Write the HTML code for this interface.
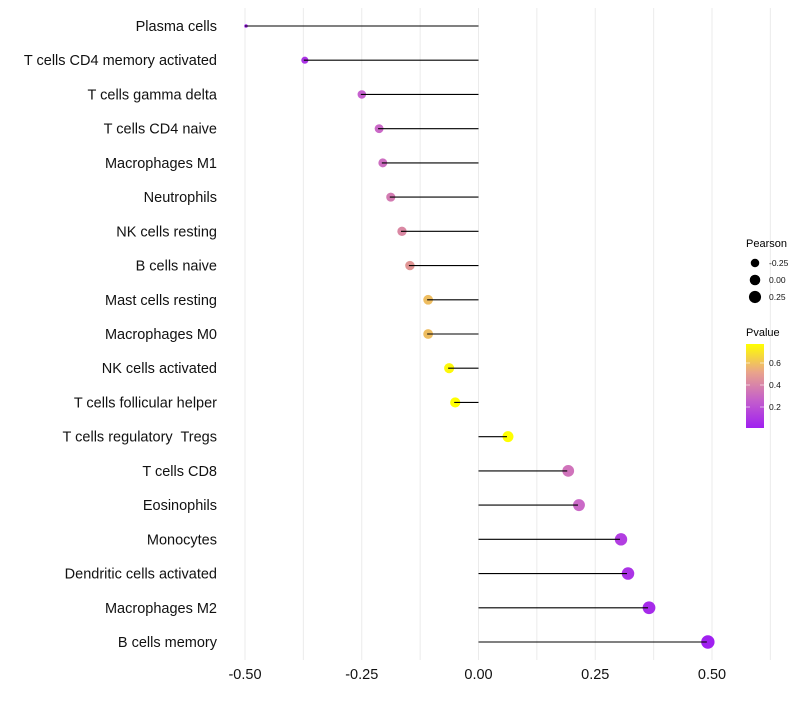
<!DOCTYPE html>
<html><head><meta charset="utf-8"><style>
body{margin:0;background:#fff;font-family:"Liberation Sans",sans-serif}
svg text{font-family:"Liberation Sans",sans-serif;white-space:pre}
</style></head><body>
<svg id="chart" width="800" height="700" xmlns="http://www.w3.org/2000/svg">
<defs><linearGradient id="pg" x1="0" y1="1" x2="0" y2="0">
<stop offset="0" stop-color="#A020F0"/><stop offset="0.33" stop-color="#C45FCB"/><stop offset="0.66" stop-color="#E9A38C"/><stop offset="1" stop-color="#FFFF00"/></linearGradient></defs>
<g id="grid"></g>
<g id="marks"></g>
<g id="ylabels"></g>
<g id="xlabels"></g>
<g>
<text x="746" y="247" font-size="11">Pearson</text>
<g id="sizeleg"></g>
</g>
<g>
<text x="746" y="336" font-size="11">Pvalue</text>
<rect x="746" y="344" width="18" height="84" fill="url(#pg)"/>
<g id="colleg"></g>
</g>
</svg>
<script>
const categories=["Plasma cells","T cells CD4 memory activated","T cells gamma delta","T cells CD4 naive","Macrophages M1","Neutrophils","NK cells resting","B cells naive","Mast cells resting","Macrophages M0","NK cells activated","T cells follicular helper","T cells regulatory  Tregs","T cells CD8","Eosinophils","Monocytes","Dendritic cells activated","Macrophages M2","B cells memory"];
const pearson=[-0.50,-0.374,-0.252,-0.215,-0.207,-0.19,-0.166,-0.149,-0.11,-0.11,-0.065,-0.052,0.061,0.19,0.213,0.303,0.318,0.363,0.489];
const pvalues=[0.02,0.08,0.25,0.28,0.30,0.35,0.40,0.45,0.58,0.58,0.75,0.77,0.77,0.32,0.28,0.12,0.08,0.05,0.01];
const xTicks=[-0.5,-0.25,0,0.25,0.5];
const xTickLabels=["-0.50","-0.25","0.00","0.25","0.50"];
const sizeLegendValues=[-0.25,0,0.25];
const sizeLegendLabels=["-0.25","0.00","0.25"];
const colorLegendValues=[0.2,0.4,0.6];
const colorLegendLabels=["0.2","0.4","0.6"];
const NS="http://www.w3.org/2000/svg";
function xs(v){return 478.5+v*467;}
function ys(i){return 26+i*(616/(categories.length-1));}
function rs(v){return 1.8+4.9*Math.sqrt(Math.max(0,(v+0.5)/0.99));}
function cs(p){const t=Math.max(0,Math.min(1,(p-0.01)/0.76));
const st=[[0,[160,32,240]],[0.33,[200,100,205]],[0.66,[232,165,130]],[1,[255,255,0]]];
for(let k=1;k<st.length;k++){if(t<=st[k][0]){const a=st[k-1],b=st[k],f=(t-a[0])/(b[0]-a[0]);
return "rgb("+a[1].map((c,j)=>Math.round(c+(b[1][j]-c)*f)).join(",")+")";}}return "rgb(255,255,0)";}
function cy(p){return 429-p*110;}
function mk(tag,attrs,parent){const e=document.createElementNS(NS,tag);for(const k in attrs)e.setAttribute(k,attrs[k]);parent.appendChild(e);return e;}
const grid=document.getElementById('grid');
for(let g=-0.5;g<=0.625;g+=0.125){const l=mk('line',{x1:xs(g),x2:xs(g),y1:8,y2:660,stroke:'#ebebeb','stroke-width':1},grid);

}
const marks=document.getElementById('marks'),yl=document.getElementById('ylabels');
categories.forEach((c,i)=>{const y=ys(i);
const p=mk('circle',{cx:xs(pearson[i])+1,cy:y,r:rs(pearson[i]),fill:cs(pvalues[i])},marks);


const l=mk('line',{x1:xs(0),x2:xs(pearson[i]),y1:y,y2:y,stroke:'#000','stroke-width':1.1},marks);


const t=mk('text',{x:217,y:y+5,'text-anchor':'end','font-size':14.5,fill:'#111'},yl);t.textContent=c;

});
const xl=document.getElementById('xlabels');
xTicks.forEach((v,i)=>{const t=mk('text',{x:xs(v),y:679,'text-anchor':'middle','font-size':14.5,fill:'#111'},xl);t.textContent=xTickLabels[i];

});
const sl=document.getElementById('sizeleg');
sizeLegendValues.forEach((v,i)=>{const y=263+i*17;
const c=mk('circle',{cx:755,cy:y,r:rs(v),fill:'#000'},sl);


const t=mk('text',{x:769,y:y+3,'font-size':8.5,fill:'#111'},sl);t.textContent=sizeLegendLabels[i];

});
const cl=document.getElementById('colleg');
colorLegendValues.forEach((v,i)=>{const y=cy(v);
mk('line',{x1:746,x2:750,y1:y,y2:y,stroke:'#fff','stroke-width':0.6},cl);
mk('line',{x1:760,x2:764,y1:y,y2:y,stroke:'#fff','stroke-width':0.6},cl);
const t=mk('text',{x:769,y:y+3,'font-size':8.5,fill:'#111'},cl);t.textContent=colorLegendLabels[i];

});
</script>
</body></html>
